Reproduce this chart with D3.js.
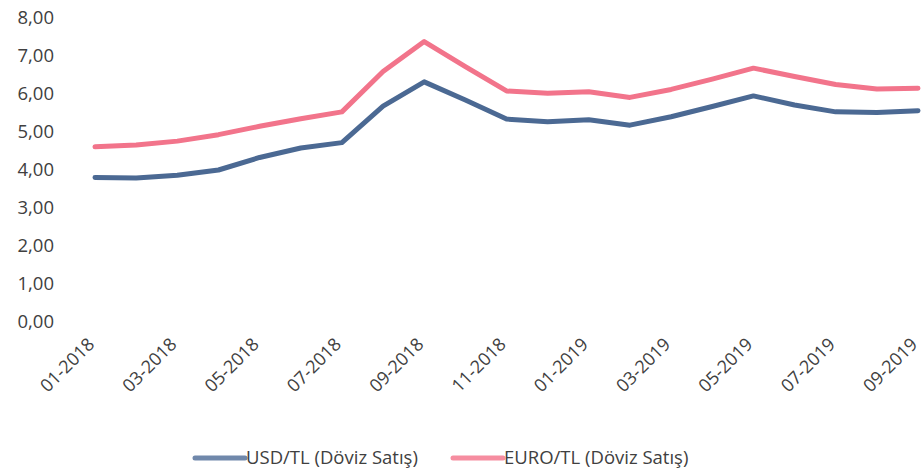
<!DOCTYPE html>
<html>
<head>
<meta charset="utf-8">
<script src="https://cdn.jsdelivr.net/npm/d3@7"></script>
<style>
  body { margin: 0; background: #fff; }
  text { font-family: "Open Sans", "Noto Sans", sans-serif; fill: #404040; }
</style>
</head>
<body>
<svg id="vis" width="923" height="475"></svg>
<script>
var months = ["01-2018","02-2018","03-2018","04-2018","05-2018","06-2018","07-2018","08-2018","09-2018","10-2018","11-2018","12-2018",
  "01-2019","02-2019","03-2019","04-2019","05-2019","06-2019","07-2019","08-2019","09-2019"];
var usd = [3.80, 3.79, 3.86, 4.00, 4.33, 4.58, 4.72, 5.68, 6.32, 5.84, 5.34, 5.27, 5.32, 5.18, 5.40, 5.67, 5.95, 5.71, 5.53, 5.51, 5.56];
var euro = [4.61, 4.66, 4.76, 4.93, 5.15, 5.35, 5.53, 6.59, 7.38, 6.72, 6.08, 6.02, 6.06, 5.91, 6.12, 6.39, 6.68, 6.46, 6.25, 6.13, 6.15];
var yTicks = [0, 1, 2, 3, 4, 5, 6, 7, 8];
var seriesNames = ["USD/TL (Döviz Satış)", "EURO/TL (Döviz Satış)"];
var seriesColors = ["#4b6993", "#f2748b"];
var legendColors = ["#7088ab", "#f68da0"];

var svg = d3.select("#vis");

var xScale = d3.scalePoint().domain(months).range([95, 918]);
var yScale = d3.scaleLinear().domain([0, 8]).range([322, 18]);

var fmt = function(d) { return d.toFixed(2).replace(".", ","); };

// y axis labels
svg.append("g")
  .selectAll("text")
  .data(yTicks)
  .enter()
  .append("text")
  .attr("x", 54)
  .attr("y", d => yScale(d))
  .attr("dy", "0.35em")
  .attr("text-anchor", "end")
  .style("font-size", "18.5px")
  .text(fmt);

// x axis labels, every second month
svg.append("g")
  .selectAll("text")
  .data(months.filter((d, i) => i % 2 === 0))
  .enter()
  .append("text")
  .attr("transform", d => `translate(${xScale(d) - 4}, 341) rotate(-45)`)
  .attr("text-anchor", "end")
  .attr("dy", "0.35em")
  .style("font-size", "18px")
  .text(d => d);

var line = d3.line()
  .x((d, i) => xScale(months[i]))
  .y(d => yScale(d));

[usd, euro].forEach(function(s, k) {
  svg.append("path")
    .datum(s)
    .attr("d", line)
    .attr("fill", "none")
    .attr("stroke", seriesColors[k])
    .attr("stroke-width", 5)
    .attr("stroke-linejoin", "round")
    .attr("stroke-linecap", "round");
});

// legend
var legendX = [195, 453];
seriesNames.forEach(function(name, k) {
  var g = svg.append("g").attr("transform", `translate(${legendX[k]}, 458)`);
  g.append("line")
    .attr("x1", 0).attr("x2", 50)
    .attr("y1", 0).attr("y2", 0)
    .attr("stroke", legendColors[k])
    .attr("stroke-width", 5)
    .attr("stroke-linecap", "round");
  g.append("text")
    .attr("x", 51)
    .attr("y", 0)
    .attr("dy", "0.35em")
    .style("font-size", "18.5px")
    .text(name);
});
</script>
</body>
</html>
